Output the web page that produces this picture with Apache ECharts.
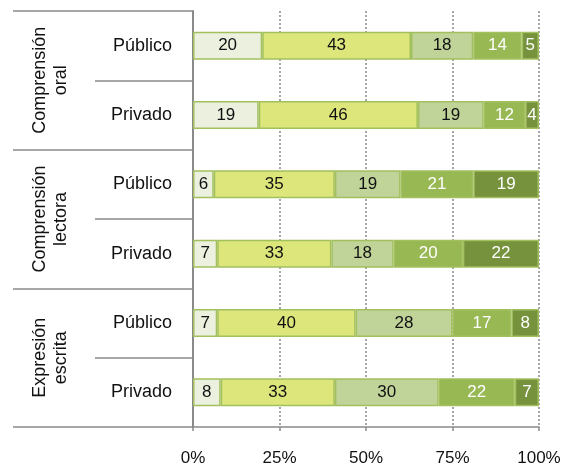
<!DOCTYPE html>
<html>
<head>
<meta charset="utf-8">
<script src="https://cdn.jsdelivr.net/npm/echarts@6/dist/echarts.min.js"></script>
<style>
html,body{margin:0;padding:0;background:#fff;}
#c{width:562px;height:468px;}
</style>
</head>
<body>
<div id="c"></div>
<script>
var categories = ['Público', 'Privado', 'Público', 'Privado', 'Público', 'Privado'];
var groups = ['Comprensión\noral', 'Comprensión\nlectora', 'Expresión\nescrita'];
var xTicks = [0, 25, 50, 75, 100];
var s1 = [20, 19, 6, 7, 7, 8];
var s2 = [43, 46, 35, 33, 40, 33];
var s3 = [18, 19, 19, 18, 28, 30];
var s4 = [14, 12, 21, 20, 17, 22];
var s5 = [5, 4, 19, 22, 8, 7];

var seriesData = [s1, s2, s3, s4, s5];
var fills = ['#EBF1DE', '#DDE67A', '#C0D399', '#97B853', '#76923C'];
var labelColors = ['#111', '#111', '#111', '#fff', '#fff'];
var FONT = '"Liberation Sans", Arial, sans-serif';

var chart = echarts.init(document.getElementById('c'), null, {renderer: 'canvas'});
var series = seriesData.map(function (d, i) {
  return {
    type: 'bar',
    stack: 'total',
    yAxisIndex: 0,
    data: d,
    barWidth: 28,
    itemStyle: {color: fills[i], borderColor: '#A2C05E', borderWidth: 1.5},
    label: {show: true, position: 'inside', color: labelColors[i], fontSize: 17, fontFamily: FONT},
    emphasis: {disabled: true},
    silent: true
  };
});

chart.setOption({
  animation: false,
  grid: {left: 193, right: 23, top: 11, bottom: 41, containLabel: false, outerBoundsMode: 'none'},
  xAxis: {
    type: 'value', min: xTicks[0], max: xTicks[xTicks.length - 1], interval: 25,
    axisLine: {show: true, lineStyle: {color: '#8a8a8a', width: 1.5}},
    axisTick: {show: true, length: 4, lineStyle: {color: '#8a8a8a', width: 1.5}},
    axisLabel: {formatter: '{value}%', color: '#111', fontSize: 17, fontFamily: FONT, margin: 23, hideOverlap: false},
    splitLine: {show: true, lineStyle: {color: '#8a8a8a', type: [2, 2], width: 1.5}}
  },
  yAxis: [
    {
      type: 'category', data: categories, inverse: true, position: 'left',
      axisLine: {show: true, lineStyle: {color: '#8a8a8a', width: 2}},
      axisTick: {show: true, interval: 0, length: 98, lineStyle: {color: '#8a8a8a', width: 1.5}},
      axisLabel: {interval: 0, color: '#111', fontSize: 18, fontFamily: FONT, margin: 21},
      splitLine: {show: false}
    },
    {
      type: 'category', data: groups, inverse: true, position: 'left', offset: 0,
      axisLine: {show: false},
      axisTick: {show: true, interval: 0, length: 180, lineStyle: {color: '#8a8a8a', width: 1.5}},
      axisLabel: {interval: 0, color: '#111', fontSize: 18, fontFamily: FONT, rotate: 90, margin: 121, lineHeight: 21, align: 'center'},
      splitLine: {show: false}
    }
  ],
  series: series
});
</script>
</body>
</html>
